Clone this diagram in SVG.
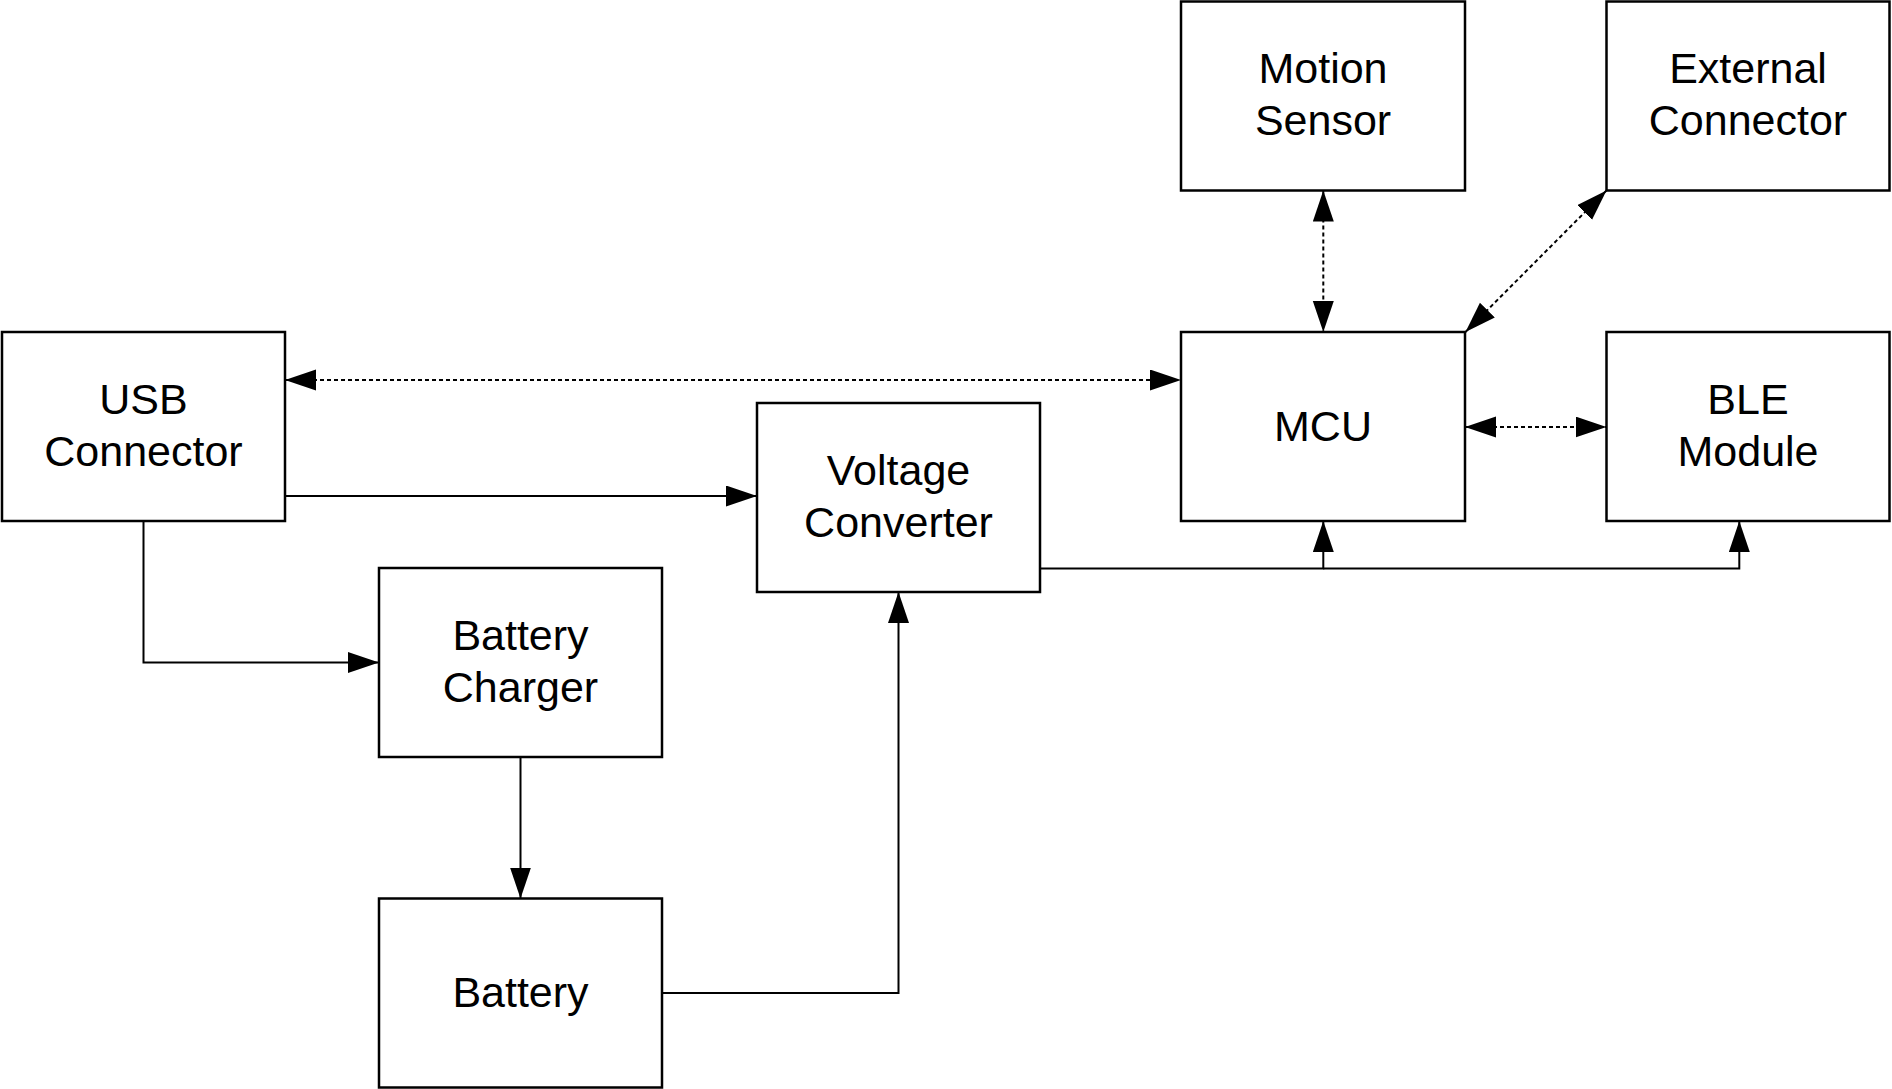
<svg xmlns="http://www.w3.org/2000/svg" width="1892" height="1089" viewBox="0 0 1892 1089">
<style>
.box{fill:#fff;stroke:#000;stroke-width:2.5}
.lbl{font-family:"Liberation Sans",Arial,sans-serif;font-size:43px;fill:#000;text-anchor:middle}
.c{fill:none;stroke:#000;stroke-width:2}
.d{stroke-dasharray:4 3}
</style>
<defs>
<marker id="ah" markerUnits="userSpaceOnUse" markerWidth="32" markerHeight="22" refX="31" refY="10.5" orient="auto-start-reverse" viewBox="0 0 32 22">
<path d="M0,0 L31,10.5 L0,21 z" fill="#000"/>
</marker>
</defs>
<rect width="1892" height="1089" fill="#fff"/>
<g id="connectors">
<path class="c d" d="M285,380 H1181" marker-start="url(#ah)" marker-end="url(#ah)"/>
<path class="c" d="M285,496 H757" marker-end="url(#ah)"/>
<path class="c" d="M143.5,521 V662.5 H379" marker-end="url(#ah)"/>
<path class="c" d="M520.5,757 V898.5" marker-end="url(#ah)"/>
<path class="c" d="M662,993 H898.5 V592" marker-end="url(#ah)"/>
<path class="c" d="M1040,568.5 H1323.3 V521" marker-end="url(#ah)"/>
<path class="c" d="M1323.3,568.5 H1739.3 V521" marker-end="url(#ah)"/>
<path class="c d" d="M1323.3,190.5 V332" marker-start="url(#ah)" marker-end="url(#ah)"/>
<path class="c d" d="M1465.5,332 L1606.5,190.5" marker-start="url(#ah)" marker-end="url(#ah)"/>
<path class="c d" d="M1465,427 H1606.5" marker-start="url(#ah)" marker-end="url(#ah)"/>
</g>
<g id="usb"><rect class="box" x="2" y="332" width="283" height="189"/><text class="lbl" x="143.5" y="413.5">USB</text><text class="lbl" x="143.5" y="465.5">Connector</text></g>
<g id="motion"><rect class="box" x="1181" y="1.5" width="284" height="189"/><text class="lbl" x="1323" y="83">Motion</text><text class="lbl" x="1323" y="135">Sensor</text></g>
<g id="external"><rect class="box" x="1606.5" y="1.5" width="283" height="189"/><text class="lbl" x="1748" y="83">External</text><text class="lbl" x="1748" y="135">Connector</text></g>
<g id="mcu"><rect class="box" x="1181" y="332" width="284" height="189"/><text class="lbl" x="1323" y="440.5">MCU</text></g>
<g id="ble"><rect class="box" x="1606.5" y="332" width="283" height="189"/><text class="lbl" x="1748" y="413.5">BLE</text><text class="lbl" x="1748" y="465.5">Module</text></g>
<g id="voltage"><rect class="box" x="757" y="403" width="283" height="189"/><text class="lbl" x="898.5" y="484.5">Voltage</text><text class="lbl" x="898.5" y="536.5">Converter</text></g>
<g id="charger"><rect class="box" x="379" y="568" width="283" height="189"/><text class="lbl" x="520.5" y="649.5">Battery</text><text class="lbl" x="520.5" y="701.5">Charger</text></g>
<g id="battery"><rect class="box" x="379" y="898.5" width="283" height="189"/><text class="lbl" x="520.5" y="1007">Battery</text></g>
</svg>
